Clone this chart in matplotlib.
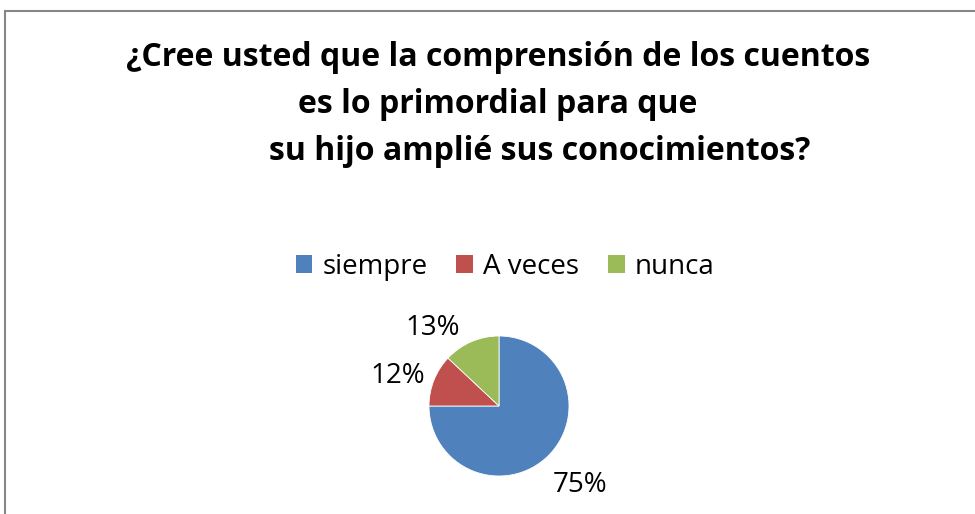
import numpy as np
import matplotlib
matplotlib.use("Agg")
import matplotlib.pyplot as plt
from matplotlib.patches import Patch, Rectangle

plt.rcParams['font.family'] = ['Open Sans', 'DejaVu Sans']

# Data
labels = ['siempre', 'A veces', 'nunca']
values = [75, 12, 13]
colors = ['#4F81BD', '#C0504D', '#9BBB59']
title_lines = ['¿Cree usted que la comprensión de los cuentos',
               'es lo primordial para que',
               'su hijo amplié sus conocimientos?']

W, H = 975, 514
fig = plt.figure(figsize=(W / 100, H / 100), dpi=100)

# chart border (cropped at right and bottom)
fig.patches.append(Rectangle((5 / W, -0.1), 1.2, (H - 10.5) / H + 0.1,
                             transform=fig.transFigure, fill=False,
                             edgecolor='#868686', linewidth=1.5))

# Title, three lines with their own offsets
title_x = [498, 498, 540]
title_y = [66, 113, 160]
for txt, x, y in zip(title_lines, title_x, title_y):
    fig.text(x / W, 1 - y / H, txt, ha='center', va='baseline',
             fontsize=23, fontweight='bold')

# Pie
cx, cy, r = 499, 406, 70
ax = fig.add_axes([(cx - r) / W, 1 - (cy + r) / H, 2 * r / W, 2 * r / H])
wedges, texts = ax.pie(values, colors=colors, startangle=90,
                       counterclock=False, radius=1,
                       wedgeprops=dict(edgecolor='white', linewidth=0.6))
ax.set_xlim(-1, 1)
ax.set_ylim(-1, 1)
ax.axis('off')

# percentage labels (best-fit style placement)
label_dist = [1.59, 1.52, 1.50]
label_shift = [2, 3, 16]  # degrees
for w, v, d, s in zip(wedges, values, label_dist, label_shift):
    ang = np.deg2rad((w.theta1 + w.theta2) / 2 + s)
    ax.annotate(f'{v}%', (d * np.cos(ang), d * np.sin(ang)),
                xytext=(0, -2.5), textcoords='offset points',
                ha='center', va='center', fontsize=20, annotation_clip=False)

handles = [Patch(facecolor=c, label=l) for c, l in zip(colors, labels)]
fig.legend(handles=handles, loc='center', bbox_to_anchor=(505 / W, 1 - 267 / H),
           ncol=3, frameon=False, fontsize=20, handlelength=0.6,
           handleheight=0.6, handletextpad=0.35, columnspacing=1.05)

fig.savefig('out.png', dpi=100)
